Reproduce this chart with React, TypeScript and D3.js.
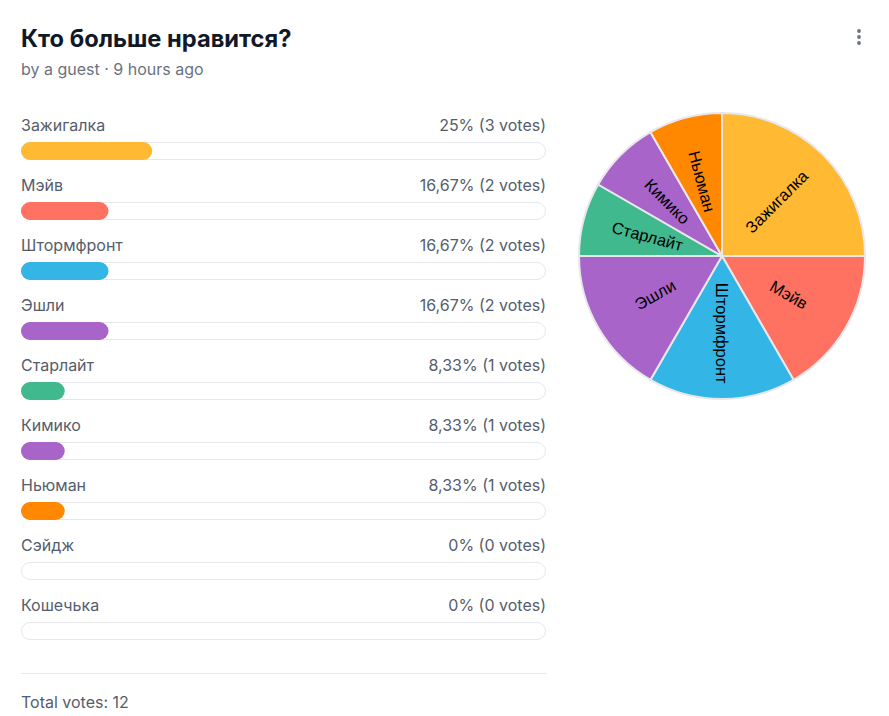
import React, { useRef, useEffect } from 'react';
import * as d3 from 'd3';

const options = ['Зажигалка', 'Мэйв', 'Штормфронт', 'Эшли', 'Старлайт', 'Кимико', 'Ньюман', 'Сэйдж', 'Кошечька'];
const votes = [3, 2, 2, 2, 1, 1, 1, 0, 0];
const colors = ['#ffb933', '#ff7262', '#33b5e5', '#a864c8', '#41b98e', '#a864c8', '#ff8800', '#99cc00', '#ff4444'];

const title = 'Кто больше нравится?';
const subtitle = 'by a guest · 9 hours ago';

const W = 889;
const H = 716;
const UI_FONT = 'Inter, "Noto Sans", sans-serif';

interface Row {
  name: string;
  votes: number;
  color: string;
}

function formatPct(p: number): string {
  const r = Math.round(p * 100) / 100;
  return String(r).replace('.', ',') + '%';
}

const App: React.FC = () => {
  const svgRef = useRef<SVGSVGElement | null>(null);

  useEffect(() => {
    if (!svgRef.current) return;
    const rows: Row[] = options.map((name, i) => ({ name, votes: votes[i], color: colors[i] }));
    const total = d3.sum(votes);

    const svg = d3.select(svgRef.current);
    svg.selectAll('*').remove();

    // Header
    svg.append('text')
      .attr('x', 21).attr('y', 47)
      .attr('font-family', UI_FONT)
      .attr('font-size', '23.7px')
      .attr('font-weight', 700)
      .attr('fill', '#111827')
      .text(title);

    svg.append('text')
      .attr('x', 21).attr('y', 75)
      .attr('font-family', UI_FONT)
      .attr('font-size', '16px')
      .attr('fill', '#6b7280')
      .text(subtitle);

    // Kebab menu
    svg.append('g').selectAll('circle')
      .data([31, 37, 43])
      .enter().append('circle')
      .attr('cx', 859).attr('cy', d => d)
      .attr('r', 1.9)
      .attr('fill', '#6b7280');

    // Bars
    const left = 21;
    const trackW = 525;
    const x = d3.scaleLinear().domain([0, 100]).range([0, trackW]);
    const rowY = d3.scaleLinear().domain([0, 1]).range([0, 60]);

    const row = svg.append('g').selectAll('g.row')
      .data(rows)
      .enter().append('g')
      .attr('class', 'row')
      .attr('transform', (_, i) => `translate(${left},${120 + rowY(i)})`);

    row.append('text')
      .attr('x', 0).attr('y', 11)
      .attr('font-family', UI_FONT)
      .attr('font-size', '16px')
      .attr('fill', '#555d6b')
      .text(d => d.name);

    row.append('text')
      .attr('x', trackW).attr('y', 11)
      .attr('text-anchor', 'end')
      .attr('font-family', UI_FONT)
      .attr('font-size', '16px')
      .attr('fill', '#555d6b')
      .text(d => `${formatPct((d.votes / total) * 100)} (${d.votes} votes)`);

    row.append('rect')
      .attr('x', 0.5).attr('y', 22.5)
      .attr('width', trackW - 1).attr('height', 17)
      .attr('rx', 8.5)
      .attr('fill', '#ffffff')
      .attr('stroke', '#e5e7eb');

    row.filter(d => d.votes > 0).append('rect')
      .attr('x', 0).attr('y', 22)
      .attr('width', d => x((d.votes / total) * 100))
      .attr('height', 18)
      .attr('rx', 9)
      .attr('fill', d => d.color);

    // Footer
    svg.append('line')
      .attr('x1', left).attr('x2', left + trackW)
      .attr('y1', 673.5).attr('y2', 673.5)
      .attr('stroke', '#e5e7eb');

    svg.append('text')
      .attr('x', 21).attr('y', 708)
      .attr('font-family', UI_FONT)
      .attr('font-size', '16px')
      .attr('fill', '#555d6b')
      .text(`Total votes: ${total}`);

    // Pie
    const cx = 722;
    const cy = 256;
    const R = 143;
    const pie = d3.pie<Row>().sort(null).value(d => d.votes);
    const arcs = pie(rows.filter(d => d.votes > 0));
    const arc = d3.arc<d3.PieArcDatum<Row>>().innerRadius(0).outerRadius(R);

    const pg = svg.append('g').attr('transform', `translate(${cx},${cy})`);

    pg.selectAll('path')
      .data(arcs)
      .enter().append('path')
      .attr('d', arc)
      .attr('fill', d => d.data.color)
      .attr('stroke', '#e8e8ec')
      .attr('stroke-width', 2);

    const labelR = R * 0.54;
    pg.selectAll('text')
      .data(arcs)
      .enter().append('text')
      .attr('transform', d => {
        const a = (d.startAngle + d.endAngle) / 2;
        const deg = (a * 180) / Math.PI;
        const lx = Math.sin(a) * labelR;
        const ly = -Math.cos(a) * labelR;
        const rot = deg < 180 ? deg - 90 : deg - 270;
        return `translate(${lx},${ly}) rotate(${rot})`;
      })
      .attr('text-anchor', 'middle')
      .attr('dominant-baseline', 'central')
      .attr('font-family', '"Liberation Sans", Arial, sans-serif')
      .attr('font-size', '16.5px')
      .attr('fill', '#000000')
      .text(d => d.data.name);
  }, []);

  return (
    <svg
      ref={svgRef}
      width={W}
      height={H}
      style={{ position: 'absolute', left: 0, top: 0, background: '#ffffff' }}
    />
  );
};

export default App;
